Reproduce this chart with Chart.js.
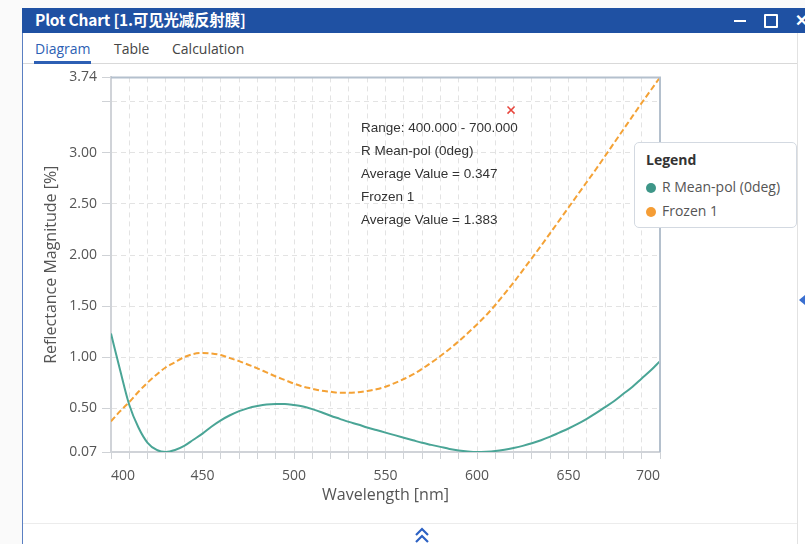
<!DOCTYPE html>
<html>
<head>
<meta charset="utf-8">
<script src="https://cdn.jsdelivr.net/npm/chart.js@4.4.1/dist/chart.umd.min.js"></script>
<style>
  body { margin: 0; width: 805px; height: 544px; overflow: hidden; background: #fff; font-family: "Open Sans", "Noto Sans", sans-serif; position: relative; }
  .abs { position: absolute; }
  #titlebar { left: 22px; top: 8px; width: 783px; height: 25px; background: #1f51a3; }
  #titletext { left: 35px; top: 8px; height: 25px; line-height: 25px; color: #fff; font: bold 15.5px "Noto Sans CJK SC", "Noto Sans", sans-serif; letter-spacing: -0.2px; }
  .tab { top: 39px; font-size: 14px; color: #444; }
  #chartBox { left: 22px; top: 64px; width: 650px; height: 458px; }
  #notes { left: 361px; top: 116px; font: 13.5px "Liberation Sans", Arial, sans-serif; color: #333; line-height: 23px; }
  #legend { left: 634px; top: 142px; width: 163px; height: 86px; border: 1px solid #d3d9e1; border-radius: 5px; background: #fff; box-sizing: border-box; }
  #legend .head { position: absolute; left: 11px; top: 7px; font-weight: bold; font-size: 14px; color: #333; }
  #legend .item { position: absolute; left: 11px; font-size: 14px; color: #555; white-space: nowrap; }
  #legend .dot { display: inline-block; width: 10px; height: 10px; border-radius: 50%; margin-right: 6px; vertical-align: -1px; }
</style>
</head>
<body>
<!-- background app strips -->
<div class="abs" style="left:0;top:0;width:805px;height:8px;background:#fafafa;"></div>
<div class="abs" style="left:0;top:0;width:22px;height:544px;background:#fafafa;"></div>
<div class="abs" style="left:22px;top:8px;width:1px;height:536px;background:#5a7fc2;"></div>
<div class="abs" style="left:797px;top:33px;width:1px;height:511px;background:#e2e2e2;"></div>
<div class="abs" id="titlebar"></div>
<div class="abs" id="titletext">Plot Chart [1.可见光减反射膜]</div>
<div class="abs" style="left:734px;top:20px;width:12px;height:2px;background:#fff;"></div>
<div class="abs" style="left:764px;top:14px;width:10px;height:10px;border:2px solid #fff;border-radius:1px;"></div>
<div class="abs" style="left:795px;top:9px;color:#fff;font-size:16px;font-weight:bold;">✕</div>
<div class="abs tab" style="left:35px;color:#2d5fb4;">Diagram</div>
<div class="abs tab" style="left:114px;">Table</div>
<div class="abs tab" style="left:172px;">Calculation</div>
<div class="abs" style="left:23px;top:63px;width:774px;height:1px;background:#d9d9d9;"></div>
<div class="abs" style="left:34px;top:61px;width:57px;height:3px;background:#2d5fb4;"></div>
<div class="abs" style="left:23px;top:523px;width:774px;height:1px;background:#ececec;"></div>
<svg class="abs" style="left:414px;top:527px;" width="16" height="17" viewBox="0 0 16 17">
  <polyline points="2,8 8,2 14,8" fill="none" stroke="#2d62c4" stroke-width="2.2"/>
  <polyline points="2,15 8,9 14,15" fill="none" stroke="#2d62c4" stroke-width="2.2"/>
</svg>
<svg class="abs" style="left:799px;top:295px;" width="6" height="10"><polygon points="6,0 0,5 6,10" fill="#3a6fd0"/></svg>

<div class="abs" id="chartBox"><canvas id="plot"></canvas></div>
<div class="abs" id="notes"></div>
<div class="abs" id="legend">
  <div class="head">Legend</div>
  <div class="item" style="top:34px;"><span class="dot" style="background:#3e9688;"></span>R Mean-pol (0deg)</div>
  <div class="item" style="top:58px;"><span class="dot" style="background:#f59d35;"></span>Frozen 1</div>
</div>

<script>
// wavelength [nm]
const wavelengths = [400, 405, 410, 415, 420, 425, 430, 435, 440, 445, 450, 455, 460, 465, 470, 475, 480, 485, 490, 495,
  500, 505, 510, 515, 520, 525, 530, 535, 540, 545, 550, 555, 560, 565, 570, 575, 580, 585, 590, 595,
  600, 605, 610, 615, 620, 625, 630, 635, 640, 645, 650, 655, 660, 665, 670, 675, 680, 685, 690, 695, 700];

// R Mean-pol (0deg) [%]
const rMeanPol = [1.23, 0.87, 0.53, 0.31, 0.16, 0.09, 0.07, 0.09, 0.13, 0.19, 0.25, 0.32, 0.38, 0.43, 0.47, 0.50, 0.52, 0.535, 0.54, 0.54,
  0.53, 0.515, 0.49, 0.46, 0.425, 0.395, 0.365, 0.34, 0.31, 0.285, 0.26, 0.235, 0.21, 0.185, 0.16, 0.14, 0.12, 0.10, 0.085, 0.075,
  0.07, 0.073, 0.08, 0.093, 0.11, 0.13, 0.155, 0.185, 0.22, 0.26, 0.30, 0.345, 0.395, 0.45, 0.51, 0.57, 0.64, 0.71, 0.79, 0.87, 0.96];

// Frozen 1 [%]
const frozen1 = [0.37, 0.47, 0.56, 0.66, 0.75, 0.83, 0.90, 0.95, 1.00, 1.03, 1.04, 1.035, 1.02, 0.99, 0.96, 0.925, 0.89, 0.85, 0.81, 0.775,
  0.74, 0.71, 0.69, 0.67, 0.66, 0.65, 0.65, 0.655, 0.668, 0.685, 0.71, 0.745, 0.785, 0.83, 0.885, 0.945, 1.01, 1.08, 1.155, 1.235,
  1.32, 1.41, 1.51, 1.62, 1.73, 1.85, 1.97, 2.09, 2.215, 2.34, 2.465, 2.59, 2.715, 2.84, 2.97, 3.10, 3.23, 3.36, 3.49, 3.615, 3.74];

const yTickValues = [0.07, 0.5, 1.0, 1.5, 2.0, 2.5, 3.0, 3.5, 3.74];
const yTickLabels = ['0.07', '0.50', '1.00', '1.50', '2.00', '2.50', '3.00', '', '3.74'];
const xTickLabels = [400, 450, 500, 550, 600, 650, 700];
const cursorMark = [{ x: 618.6, y: 3.42 }];

const noteLines = ['Range: 400.000 - 700.000', 'R Mean-pol (0deg)', 'Average Value = 0.347', 'Frozen 1', 'Average Value = 1.383'];
document.getElementById('notes').innerHTML = noteLines.join('<br>');

Chart.defaults.font.family = '"Open Sans", "Noto Sans", sans-serif';
Chart.defaults.color = '#555';

const plotFrame = {
  id: 'plotFrame',
  afterDatasetsDraw(chart) {
    const a = chart.chartArea, ctx = chart.ctx;
    ctx.save();
    ctx.strokeStyle = '#b4c0cd';
    ctx.lineWidth = 2;
    ctx.beginPath();
    ctx.moveTo(a.left, a.top);
    ctx.lineTo(a.right, a.top);
    ctx.lineTo(a.right, a.bottom);
    ctx.stroke();
    ctx.restore();
  }
};

const ctx = document.getElementById('plot').getContext('2d');
new Chart(ctx, {
  type: 'line',
  data: {
    datasets: [
      {
        label: 'R Mean-pol (0deg)',
        data: wavelengths.map((w, i) => ({ x: w, y: rMeanPol[i] })),
        borderColor: '#4aa596',
        borderWidth: 2,
        pointRadius: 0,
        cubicInterpolationMode: 'monotone'
      },
      {
        label: 'Frozen 1',
        data: wavelengths.map((w, i) => ({ x: w, y: frozen1[i] })),
        borderColor: '#f4a236',
        borderWidth: 2,
        borderDash: [6, 3],
        pointRadius: 0,
        cubicInterpolationMode: 'monotone'
      },
      {
        type: 'scatter',
        label: 'cursor',
        data: cursorMark,
        pointStyle: 'crossRot',
        pointRadius: 5,
        borderColor: '#e8453c',
        borderWidth: 1.5
      }
    ]
  },
  options: {
    responsive: true,
    maintainAspectRatio: false,
    animation: false,
    layout: { padding: { left: 0, right: 12, top: 12, bottom: 0 } },
    plugins: { legend: { display: false }, tooltip: { enabled: false } },
    scales: {
      x: {
        type: 'linear',
        min: 400,
        max: 700,
        afterFit: s => { s.height = 70; },
        ticks: {
          stepSize: 10,
          autoSkip: false,
          maxRotation: 0,
          align: 'inner',
          padding: 9,
          font: { size: 14 },
          color: '#555',
          callback: v => xTickLabels.includes(v) ? String(v) : ''
        },
        grid: {
          color: c => (c.index === 0 || c.index === 30) ? 'rgba(0,0,0,0)' : '#e3e3e3',
          tickColor: '#cfd2d6',
          tickLength: 7
        },
        border: { color: '#d0d3d8', width: 2, dash: [5, 4] },
        title: { display: true, text: 'Wavelength [nm]', font: { size: 16 }, color: '#555', padding: { top: 0, bottom: 17 } }
      },
      y: {
        min: 0.07,
        max: 3.74,
        afterFit: s => { s.width = 89; },
        afterBuildTicks: s => { s.ticks = yTickValues.map(v => ({ value: v })); },
        ticks: {
          padding: 5,
          font: { size: 14 },
          color: '#555',
          callback: (v, i) => yTickLabels[i]
        },
        grid: {
          color: c => (c.index === 0 || c.index === yTickValues.length - 1) ? 'rgba(0,0,0,0)' : '#e3e3e3',
          tickColor: '#cfd2d6',
          tickLength: 9
        },
        border: { color: '#d0d3d8', width: 2, dash: [5, 4] },
        title: { display: true, text: 'Reflectance Magnitude [%]', font: { size: 16 }, color: '#555', padding: { top: 20, bottom: 0 } }
      }
    }
  },
  plugins: [plotFrame]
});
</script>
</body>
</html>
